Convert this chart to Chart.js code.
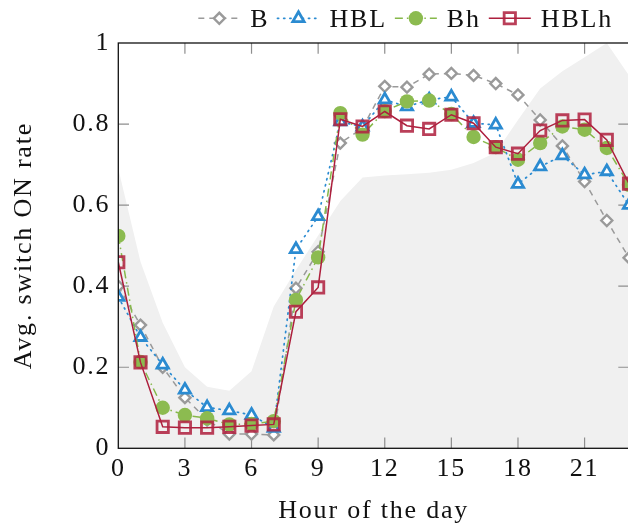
<!DOCTYPE html>
<html>
<head>
<meta charset="utf-8">
<script src="https://cdn.jsdelivr.net/npm/chart.js@4.4.1/dist/chart.umd.min.js"></script>
<style>
  html, body { margin: 0; padding: 0; overflow: hidden; background: #fff; }
  #wrap { width: 640px; height: 529px; }
</style>
</head>
<body>
<div id="wrap"><canvas id="chart" width="640" height="529"></canvas></div>
<script>
// Hour of the day (x) and the tick values shown on each axis
const hours = [0, 1, 2, 3, 4, 5, 6, 7, 8, 9, 10, 11, 12, 13, 14, 15, 16, 17, 18, 19, 20, 21, 22, 23];
const xTickValues = [0, 3, 6, 9, 12, 15, 18, 21];
const yTickValues = [0, 0.2, 0.4, 0.6, 0.8, 1];

// Shaded reference profile behind the curves
const envelope = [0.69, 0.46, 0.31, 0.20, 0.152, 0.142, 0.19, 0.35, 0.44, 0.525, 0.61, 0.668,
                  0.673, 0.676, 0.68, 0.687, 0.704, 0.73, 0.81, 0.888, 0.93, 0.965, 1.0, 0.92];

// Average switch-ON rate per hour for each strategy
const seriesB    = [0.40, 0.304, 0.20, 0.125, 0.07, 0.035, 0.035, 0.033, 0.395, 0.485, 0.753, 0.79,
                    0.893, 0.891, 0.923, 0.925, 0.92, 0.90, 0.872, 0.81, 0.746, 0.658, 0.562, 0.47];
const seriesHBL  = [0.373, 0.274, 0.206, 0.144, 0.101, 0.093, 0.082, 0.05, 0.491, 0.572, 0.806, 0.793,
                    0.86, 0.843, 0.86, 0.867, 0.802, 0.798, 0.652, 0.695, 0.722, 0.675, 0.683, 0.60];
const seriesBh   = [0.524, 0.213, 0.10, 0.082, 0.074, 0.059, 0.06, 0.067, 0.366, 0.471, 0.827, 0.774,
                    0.832, 0.856, 0.858, 0.825, 0.768, 0.743, 0.712, 0.753, 0.794, 0.786, 0.741, 0.65];
const seriesHBLh = [0.459, 0.212, 0.053, 0.051, 0.051, 0.053, 0.056, 0.059, 0.337, 0.397, 0.812, 0.794,
                    0.831, 0.796, 0.788, 0.823, 0.802, 0.743, 0.727, 0.784, 0.809, 0.811, 0.761, 0.653];

const labels = ['B', 'HBL', 'Bh', 'HBLh'];

const FONT = '"Liberation Serif", "Times New Roman", serif';
const FONT_SIZE = 26;
const SPACING = '1.8px';
const INK = '#111111';

const toPoints = vals => vals.map((v, i) => ({ x: hours[i], y: v }));

// Letter spacing for every piece of canvas text
const spacingPlugin = {
  id: 'spacing',
  beforeUpdate(chart) { chart.ctx.letterSpacing = SPACING; },
  beforeDraw(chart) { chart.ctx.letterSpacing = SPACING; }
};

// Inward tick marks on all four sides, drawn just above the shaded area
function drawInnerTicks(chart) {
  const { ctx, chartArea: a, scales: { x, y } } = chart;
  const len = 10.7;
  ctx.save();
  ctx.strokeStyle = '#8e8e8e';
  ctx.lineWidth = 1.2;
  ctx.beginPath();
  x.ticks.forEach(t => {
    if (t.value <= x.min || t.value >= x.max) return;
    const px = x.getPixelForValue(t.value);
    ctx.moveTo(px, a.bottom); ctx.lineTo(px, a.bottom - len);
    ctx.moveTo(px, a.top); ctx.lineTo(px, a.top + len);
  });
  y.ticks.forEach(t => {
    if (t.value <= y.min || t.value >= y.max) return;
    const py = y.getPixelForValue(t.value);
    ctx.moveTo(a.left, py); ctx.lineTo(a.left + len, py);
    ctx.moveTo(a.right, py); ctx.lineTo(a.right - len, py);
  });
  ctx.stroke();
  ctx.restore();
}

const framePlugin = {
  id: 'frame',
  afterDatasetDraw(chart, args) {
    if (args.index === 0) drawInnerTicks(chart);
  },
  afterDatasetsDraw(chart) {
    const { ctx, chartArea: a } = chart;
    ctx.save();
    ctx.strokeStyle = INK;
    ctx.lineWidth = 1.3;
    ctx.strokeRect(a.left, a.top, a.right - a.left, a.bottom - a.top);
    ctx.restore();
  }
};

// Legend row above the plot: line sample with marker, then the name
const legendPlugin = {
  id: 'rowLegend',
  afterDraw(chart) {
    const ctx = chart.ctx;
    const sample = 42, gapText = 10, gapItem = 8;
    const rightEdge = 613, midY = 18.3, baseY = 26.7;
    ctx.save();
    ctx.letterSpacing = SPACING;
    ctx.font = FONT_SIZE + 'px ' + FONT;
    const items = chart.data.datasets.slice(1);
    let total = 0;
    items.forEach((ds, i) => {
      total += sample + gapText + ctx.measureText(ds.label).width;
      if (i < items.length - 1) total += gapItem;
    });
    let x0 = rightEdge - total;
    items.forEach(ds => {
      ctx.save();
      ctx.strokeStyle = ds.borderColor;
      ctx.lineWidth = ds.borderWidth;
      ctx.setLineDash(ds.borderDash || []);
      ctx.lineCap = ds.borderCapStyle || 'butt';
      ctx.beginPath();
      ctx.moveTo(x0, midY); ctx.lineTo(x0 + sample, midY);
      ctx.stroke();
      ctx.setLineDash([]);
      ctx.strokeStyle = ds.pointBorderColor;
      ctx.fillStyle = ds.pointBackgroundColor;
      ctx.lineWidth = ds.pointBorderWidth;
      Chart.helpers.drawPoint(ctx, { pointStyle: ds.pointStyle, radius: ds.pointRadius, rotation: 0, borderWidth: ds.pointBorderWidth },
        x0 + sample / 2, midY);
      ctx.restore();
      ctx.fillStyle = INK;
      ctx.textBaseline = 'alphabetic';
      ctx.textAlign = 'left';
      const tx = x0 + sample + gapText;
      ctx.fillText(ds.label, tx, baseY);
      x0 = tx + ctx.measureText(ds.label).width + gapItem;
    });
    ctx.restore();
  }
};

const plotLeft = 118.3, plotBottom = 448.3, plotTop = 43, plotRight = 629;

new Chart(document.getElementById('chart'), {
  type: 'line',
  data: {
    datasets: [
      {
        label: 'range',
        data: toPoints(envelope),
        fill: 'origin',
        backgroundColor: '#f0f0f0',
        borderWidth: 0,
        borderColor: 'rgba(0,0,0,0)',
        pointRadius: 0,
        tension: 0,
        order: 10
      },
      {
        label: labels[0],
        data: toPoints(seriesB),
        borderColor: '#9a9a9a',
        borderWidth: 1.5,
        borderDash: [6, 5],
        pointStyle: 'rectRot',
        pointRadius: 5.5,
        pointBorderWidth: 2.4,
        pointBorderColor: '#9a9a9a',
        pointBackgroundColor: '#ffffff',
        fill: false,
        tension: 0,
        order: 4
      },
      {
        label: labels[1],
        data: toPoints(seriesHBL),
        borderColor: '#2b8bd1',
        borderWidth: 1.7,
        borderDash: [1.2, 5],
        borderCapStyle: 'round',
        pointStyle: 'triangle',
        pointRadius: 6.5,
        pointBorderWidth: 2.8,
        pointBorderColor: '#2b8bd1',
        pointBackgroundColor: '#ffffff',
        fill: false,
        tension: 0,
        order: 3
      },
      {
        label: labels[2],
        data: toPoints(seriesBh),
        borderColor: '#86b84a',
        borderWidth: 1.5,
        borderDash: [8, 4, 1.5, 4],
        pointStyle: 'circle',
        pointRadius: 7.2,
        pointBorderWidth: 0,
        pointBorderColor: '#8cbb50',
        pointBackgroundColor: '#8cbb50',
        fill: false,
        tension: 0,
        order: 2
      },
      {
        label: labels[3],
        data: toPoints(seriesHBLh),
        borderColor: '#ad1f3d',
        borderWidth: 1.5,
        pointStyle: 'rect',
        pointRadius: 8,
        pointBorderWidth: 2.8,
        pointBorderColor: 'rgba(176,36,66,0.88)',
        pointBackgroundColor: 'rgba(0,0,0,0)',
        fill: false,
        tension: 0,
        order: 1
      }
    ]
  },
  options: {
    responsive: false,
    animation: false,
    events: [],
    layout: { padding: { top: plotTop, right: 640 - plotRight, left: 0, bottom: 0 } },
    plugins: {
      legend: { display: false },
      tooltip: { enabled: false }
    },
    scales: {
      x: {
        type: 'linear',
        min: 0,
        max: 23,
        afterBuildTicks: s => { s.ticks = xTickValues.map(v => ({ value: v })); },
        afterFit: s => { s.height = 529 - plotBottom; },
        grid: { display: false, drawTicks: false },
        border: { display: false },
        ticks: { color: INK, padding: 5, maxRotation: 0, callback: v => String(v),
                 font: { family: FONT, size: FONT_SIZE } },
        title: { display: true, text: 'Hour of the day', color: INK, padding: { top: 0, bottom: 2 },
                 font: { family: FONT, size: FONT_SIZE } }
      },
      y: {
        type: 'linear',
        min: 0,
        max: 1,
        afterBuildTicks: s => { s.ticks = yTickValues.map(v => ({ value: v })); },
        afterFit: s => { s.width = plotLeft; },
        grid: { display: false, drawTicks: false },
        border: { display: false },
        ticks: { color: INK, padding: 8, callback: v => String(v),
                 font: { family: FONT, size: FONT_SIZE } },
        title: { display: true, text: 'Avg. switch ON rate', color: INK, padding: { top: 9, bottom: 0 },
                 font: { family: FONT, size: FONT_SIZE } }
      }
    }
  },
  plugins: [spacingPlugin, framePlugin, legendPlugin]
});
</script>
</body>
</html>
